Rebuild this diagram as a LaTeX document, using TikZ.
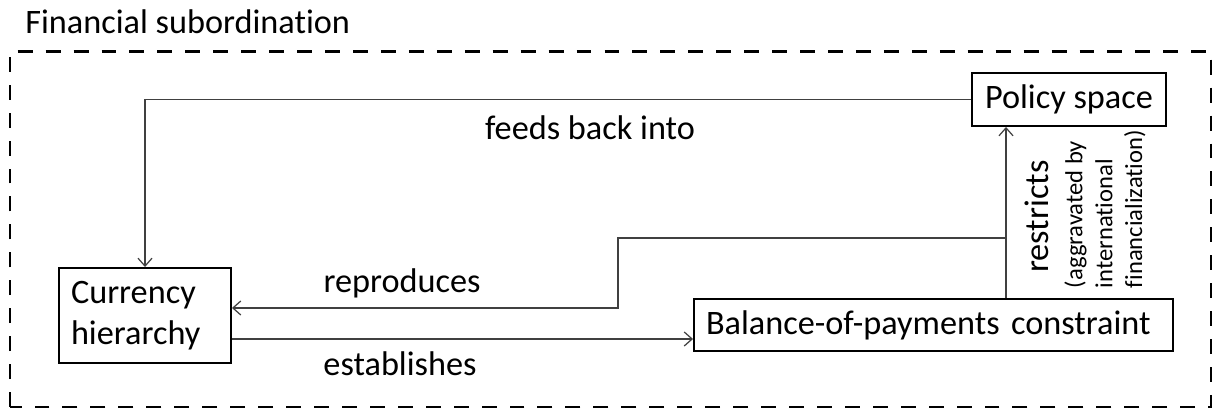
\documentclass[tikz,border=0pt]{standalone}
\usepackage{fontspec}
\setmainfont{Carlito}[Ligatures=NoCommon]
\usetikzlibrary{arrows.meta}

\begin{document}
\begin{tikzpicture}
        \tikzset{box/.style = {shape=rectangle, draw, line width=1.1pt, inner sep=0pt, font=\fontsize{19.5}{23.3}\selectfont}}
        \tikzset{link/.style = {draw=black!75, line width=0.7pt, -{Straight Barb[length=4.5pt,width=8pt]}}}
        \tikzset{lbl/.style = {inner sep=0pt, font=\fontsize{19.5}{23.3}\selectfont}}

        \useasboundingbox (0,0) rectangle (24.36,8.2);
        \draw[dash pattern=on 8.5pt off 7.4pt, line width=1.5pt] (0.2,0.06) rectangle (24.22,7.17);
        \node[lbl, anchor=base west] (title) at (0.5,7.52) {Financial subordination};

        \node[box, minimum width=3.88cm, minimum height=1.06cm] (ps) at (21.38,6.21) {Policy space};
        \node[box, text width=2.96cm, align=left, inner xsep=0.24cm, minimum height=1.9cm] (ch) at (2.9,1.89) {Currency\\hierarchy};
        \node[box, text width=9.1cm, align=left, inner xsep=0.24cm, minimum height=1.04cm] (bop) at (18.67,1.7) {Balance-of-payments constraint};

        \coordinate (r) at (20.12,0);
        \coordinate (j) at (20.12,3.44);
        \coordinate (k) at (12.36,2.04);
        \coordinate (e) at (0,1.42);

        \draw[link] (ps.west) -| (ch.north);
        \draw[link] (bop.north -| r) -- (ps.south -| r);
        \draw[link] (j) -| (k) -- (ch.east |- k);
        \draw[link] (ch.east |- e) -- (bop.west |- e);

        \node[lbl, anchor=base] (fb) at (11.8,5.4) {feeds back into};
        \node[lbl, anchor=base] (rp) at (8.04,2.34) {reproduces};
        \node[lbl, anchor=base] (es) at (8.0,0.68) {establishes};
        \node[lbl, rotate=90] (rs) at (20.74,3.87) {restricts};
        \node[lbl, rotate=90, align=left, font=\fontsize{14}{17}\selectfont] (ag) at (22.1,4.02) {(aggravated by\\international\\financialization)};
      \end{tikzpicture}
\end{document}
